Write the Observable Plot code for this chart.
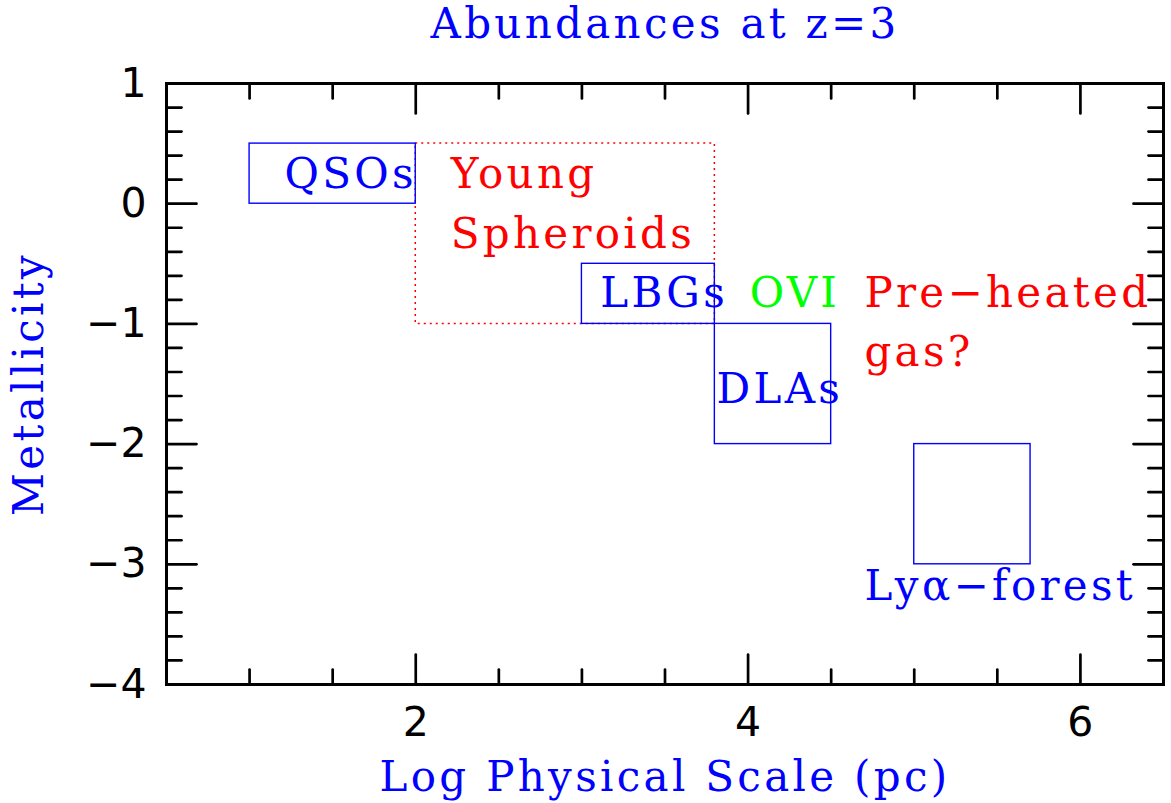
<!DOCTYPE html>
<html><head><meta charset="utf-8">
<script src="https://cdn.jsdelivr.net/npm/d3@7"></script>
<script src="https://cdn.jsdelivr.net/npm/@observablehq/plot@0.6"></script>
<style>
body{margin:0;background:#fff}
g[font-family="DejaVu Serif"]{letter-spacing:3.3px}
</style></head><body><div id="chart"></div>
<script>
const titleText = "Abundances at z=3";
const xLabelText = "Log Physical Scale (pc)";
const yLabelText = "Metallicity";
const xDomain = [0.5, 6.5];
const yDomain = [-4, 1];
const boxNames = ["QSOs", "LBGs", "DLAs", "Lyα-forest"];
const boxX1 = [1, 3, 3.8, 5];
const boxX2 = [2, 3.8, 4.5, 5.7];
const boxY1 = [0, -1, -2, -3];
const boxY2 = [0.5, -0.5, -1, -2];
const spheroidX1 = [2], spheroidX2 = [3.8], spheroidY1 = [-1], spheroidY2 = [0.5];
const labelText = ["QSOs", "Young", "Spheroids", "LBGs", "OVI", "Pre\u2212heated", "gas?", "DLAs", "Lyα\u2212forest"];
const labelX = [1.21, 2.21, 2.21, 3.11, 4.01, 4.70, 4.70, 3.81, 4.70];
const labelY = [0.13, 0.13, -0.37, -0.86, -0.86, -0.86, -1.35, -1.66, -3.30];
const labelColor = ["#0000ff", "#ff0000", "#ff0000", "#0000ff", "#00ff00", "#ff0000", "#ff0000", "#0000ff", "#0000ff"];
const xTickLabels = [2, 4, 6];
const xMajorTicks = [2, 4, 6];
const xMinorTicks = [1, 1.5, 2.5, 3, 3.5, 4.5, 5, 5.5];
const yTickLabels = [-4, -3, -2, -1, 0, 1];
const yMajorTicks = [-3, -2, -1, 0];
const yMinorTicks = [-3.8, -3.6, -3.4, -3.2, -2.8, -2.6, -2.4, -2.2, -1.8, -1.6, -1.4, -1.2, -0.8, -0.6, -0.4, -0.2, 0.2, 0.4, 0.6, 0.8];

const BLUE = "#0000ff";
const tickShape = {draw(ctx, l) { ctx.moveTo(0, 0); ctx.lineTo(0, -l); }};
const tickStyle = {stroke: "black", strokeWidth: 2.7, shape: tickShape, anchor: "start"};
const serif = "DejaVu Serif";
const FS = 42;
const intFormat = d3.format("d");

function ticks(values, dim, len) {
  const marks = [];
  if (dim === "y") {
    marks.push(Plot.vector(values, {y: d => d, frameAnchor: "left", rotate: 90, length: len, ...tickStyle}));
    marks.push(Plot.vector(values, {y: d => d, frameAnchor: "right", rotate: -90, length: len, ...tickStyle}));
  } else {
    marks.push(Plot.vector(values, {x: d => d, frameAnchor: "bottom", rotate: 0, length: len, ...tickStyle}));
    marks.push(Plot.vector(values, {x: d => d, frameAnchor: "top", rotate: 180, length: len, ...tickStyle}));
  }
  return marks;
}

const chart = Plot.plot({
  width: 1171,
  height: 803,
  marginLeft: 166,
  marginRight: 8,
  marginTop: 83,
  marginBottom: 119,
  style: {background: "white"},
  x: {domain: xDomain},
  y: {domain: yDomain},
  marks: [
    Plot.rect(spheroidX1, {x1: (d, i) => spheroidX1[i], x2: (d, i) => spheroidX2[i], y1: (d, i) => spheroidY1[i], y2: (d, i) => spheroidY2[i], fill: "none", stroke: "#ff0000", strokeWidth: 1.5, strokeDasharray: "2,4"}),
    Plot.rect(boxNames, {x1: (d, i) => boxX1[i], x2: (d, i) => boxX2[i], y1: (d, i) => boxY1[i], y2: (d, i) => boxY2[i], fill: "none", stroke: BLUE, strokeWidth: 1.4}),
    Plot.text(labelText, {x: (d, i) => labelX[i], y: (d, i) => labelY[i], text: d => d, fill: (d, i) => labelColor[i], textAnchor: "start", lineAnchor: "bottom", fontSize: FS, fontFamily: serif}),
    ...ticks(yMinorTicks, "y", 15),
    ...ticks(yMajorTicks, "y", 30),
    ...ticks(xMinorTicks, "x", 15),
    ...ticks(xMajorTicks, "x", 30),
    Plot.frame({stroke: "black", strokeWidth: 3}),
    Plot.axisX(xTickLabels, {anchor: "bottom", tickSize: 0, tickPadding: 22, tickFormat: intFormat, fontSize: 41, fontFamily: "DejaVu Sans", fill: "black", label: null}),
    Plot.axisY(yTickLabels, {anchor: "left", tickSize: 0, tickPadding: 20, tickFormat: intFormat, fontSize: 41, fontFamily: "DejaVu Sans", fill: "black", label: null}),
    Plot.text([titleText], {frameAnchor: "top", dy: -46, lineAnchor: "bottom", fontSize: FS, fontFamily: serif, fill: BLUE}),
    Plot.text([xLabelText], {frameAnchor: "bottom", dy: 106, lineAnchor: "bottom", fontSize: FS, fontFamily: serif, fill: BLUE}),
    Plot.text([yLabelText], {frameAnchor: "left", dx: -124, rotate: -90, textAnchor: "middle", lineAnchor: "bottom", fontSize: FS, fontFamily: serif, fill: BLUE})
  ]
});
document.getElementById("chart").appendChild(chart);
</script></body></html>
